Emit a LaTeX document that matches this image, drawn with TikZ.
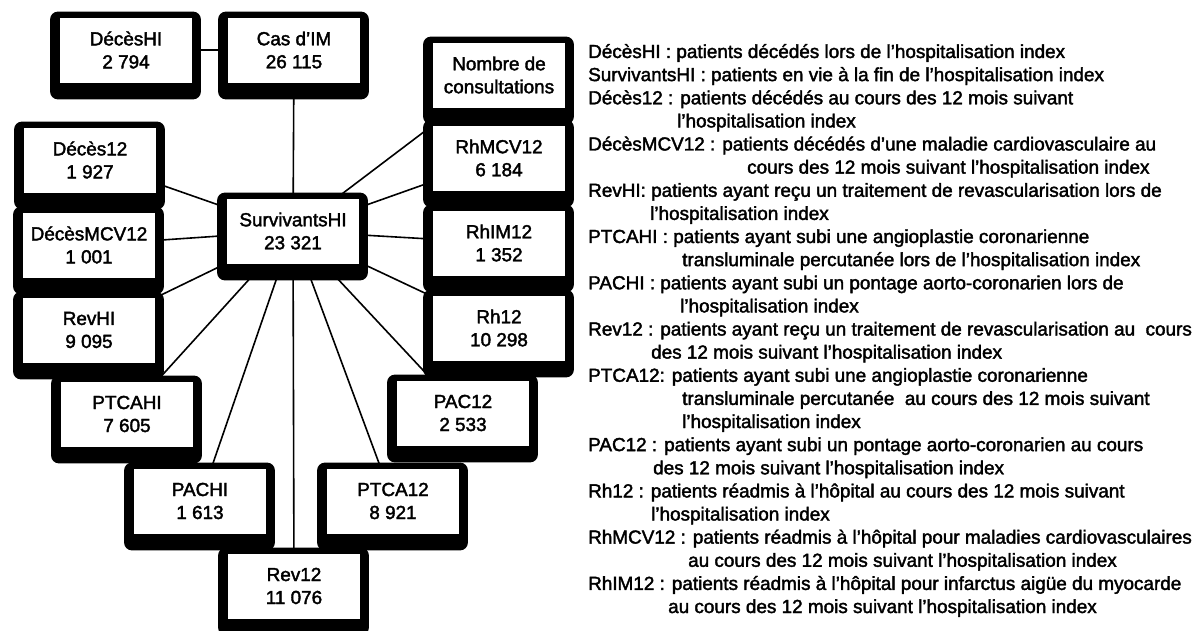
\documentclass[tikz,border=0pt]{standalone}
\usepackage{fontspec}
\setmainfont{Liberation Sans}[FakeBold=2]
\usetikzlibrary{calc}
\pgfdeclarelayer{edges}
\pgfdeclarelayer{shades}
\pgfsetlayers{edges,shades,main}
\newcommand\cellfont{\fontsize{18.9}{23}\selectfont}
\tikzset{
  cell/.style={draw=black, line width=0.9pt, fill=white, minimum width=133pt,
    minimum height=66pt, inner sep=0pt, align=center, font=\cellfont},
  link/.style={line width=1.6pt},
  gloss/.style={anchor=base west, inner sep=0pt, font=\cellfont},
}
\begin{document}
\begin{tikzpicture}[x=1pt,y=-1pt]
\useasboundingbox (0,0) rectangle (1197,631);

% cohort boxes
\node[cell] (dhi)   at (126,50)  {DécèsHI\\2 794};
\node[cell] (cas)   at (294,50)  {Cas d'IM\\26 115};
\node[cell] (nb)    at (499,75)  {Nombre de\\consultations};
\node[cell] (rhmcv) at (499,158) {RhMCV12\\6 184};
\node[cell] (rhim)  at (499,243) {RhIM12\\1 352};
\node[cell] (rh)    at (499,328) {Rh12\\10 298};
\node[cell] (pac)   at (463,413) {PAC12\\2 533};
\node[cell] (ptca)  at (393,501) {PTCA12\\8 921};
\node[cell] (rev)   at (294,586) {Rev12\\11 076};
\node[cell] (pachi) at (200,501) {PACHI\\1 613};
\node[cell] (ptcahi) at (127,414) {PTCAHI\\7 605};
\node[cell] (revhi) at (89,330)  {RevHI\\9 095};
\node[cell] (dmcv)  at (89,245)  {DécèsMCV12\\1 001};
\node[cell] (d12)   at (90,160)  {Décès12\\1 927};
\node[cell] (surv)  at (293,231) {SurvivantsHI\\23 321};

% heavy rounded frames behind each box
\begin{pgfonlayer}{shades}
\foreach \n in {dhi,cas,nb,rhmcv,rhim,rh,pac,ptca,rev,pachi,ptcahi,revhi,dmcv,d12,surv}
  \fill[black, rounded corners=8pt] ($(\n.north west)+(-9,-5)$) rectangle ($(\n.south east)+(8,16)$);
\end{pgfonlayer}

% connectors
\begin{pgfonlayer}{edges}
\draw[link] (dhi) -- (cas);
\draw[link] (cas) -- (surv);
\foreach \n in {nb,rhmcv,rhim,rh,pac,ptca,rev,pachi,ptcahi,revhi,dmcv,d12}
  \draw[link] (surv.center) -- (\n.center);
\end{pgfonlayer}

% glossary
\node[gloss] (g1)  at (588,58)    {DécèsHI : patients décédés lors de l'hospitalisation index};
\node[gloss] (g2)  at (588,81.1)  {SurvivantsHI : patients en vie à la fin de l'hospitalisation index};
\node[gloss] (g3)  at (588,104.3) {Décès12 : patients décédés au cours des 12 mois suivant};
\node[gloss] (g4)  at (677,127.4) {l'hospitalisation index};
\node[gloss] (g5)  at (588,150.5) {DécèsMCV12 : patients décédés d'une maladie cardiovasculaire au};
\node[gloss] (g6)  at (747,173.6) {cours des 12 mois suivant l'hospitalisation index};
\node[gloss] (g7)  at (588,196.8) {RevHI: patients ayant reçu un traitement de revascularisation lors de};
\node[gloss] (g8)  at (650,219.9) {l'hospitalisation index};
\node[gloss] (g9)  at (588,243)   {PTCAHI : patients ayant subi une angioplastie coronarienne};
\node[gloss] (g10) at (682,266.1) {transluminale percutanée lors de l'hospitalisation index};
\node[gloss] (g11) at (588,289.3) {PACHI : patients ayant subi un pontage aorto-coronarien lors de};
\node[gloss] (g12) at (680,312.4) {l'hospitalisation index};
\node[gloss] (g13) at (588,335.5) {Rev12 : patients ayant reçu un traitement de revascularisation au\ \ cours};
\node[gloss] (g14) at (651,358.6) {des 12 mois suivant l'hospitalisation index};
\node[gloss] (g15) at (588,381.8) {PTCA12: patients ayant subi une angioplastie coronarienne};
\node[gloss] (g16) at (682,404.9) {transluminale percutanée\ \ au cours des 12 mois suivant};
\node[gloss] (g17) at (682,428)   {l'hospitalisation index};
\node[gloss] (g18) at (588,451.1) {PAC12 : patients ayant subi un pontage aorto-coronarien au cours};
\node[gloss] (g19) at (653,474.3) {des 12 mois suivant l'hospitalisation index};
\node[gloss] (g20) at (588,497.4) {Rh12 : patients réadmis à l'hôpital au cours des 12 mois suivant};
\node[gloss] (g21) at (651,520.5) {l'hospitalisation index};
\node[gloss] (g22) at (588,543.6) {RhMCV12 : patients réadmis à l'hôpital pour maladies cardiovasculaires};
\node[gloss] (g23) at (688,566.8) {au cours des 12 mois suivant l'hospitalisation index};
\node[gloss] (g24) at (588,589.9) {RhIM12 : patients réadmis à l'hôpital pour infarctus aigüe du myocarde};
\node[gloss] (g25) at (668,613)   {au cours des 12 mois suivant l'hospitalisation index};
\end{tikzpicture}
\end{document}
